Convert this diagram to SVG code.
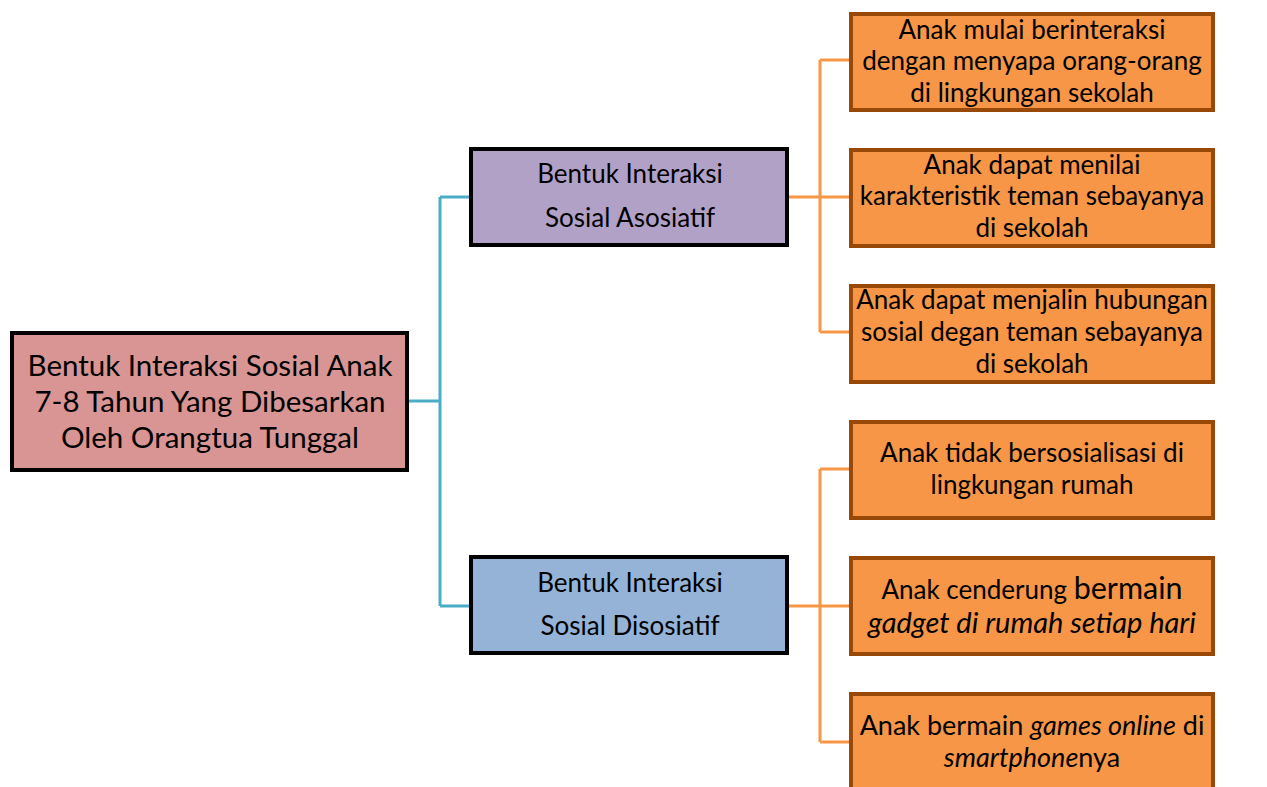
<svg xmlns="http://www.w3.org/2000/svg" width="1267" height="787" viewBox="0 0 1267 787">
<style>
text{font-family:Lato,"Noto Sans","Liberation Sans",sans-serif;fill:#000;text-anchor:middle}
.root{font-size:29.5px}
.mid{font-size:26px}
.leaf{font-size:26px}
.i{font-style:italic}
.teal{stroke:#4BACC6;stroke-width:3;fill:none}
.org{stroke:#F79646;stroke-width:3;fill:none}
.lb{fill:#F79646;stroke:#984807;stroke-width:4}
</style>
<rect width="1267" height="787" fill="#fff"/>
<g id="connectors">
<path class="teal" d="M409 401H440M440 197V606M440 197H471M440 606H471"/>
<path class="org" d="M789 197H820M820 60V332M820 60H850M820 197H850M820 332H850"/>
<path class="org" d="M789 606H820M820 469V742M820 469H850M820 606H850M820 742H850"/>
</g>
<g id="root">
<rect x="12" y="333" width="395" height="137" fill="#D99594" stroke="#000" stroke-width="4"/>
<text class="root" x="210" y="376">Bentuk Interaksi Sosial Anak</text>
<text class="root" x="210" y="412">7-8 Tahun Yang Dibesarkan</text>
<text class="root" x="210" y="448">Oleh Orangtua Tunggal</text>
</g>
<g id="asosiatif">
<rect x="471" y="149" width="316" height="96" fill="#B2A1C7" stroke="#000" stroke-width="4"/>
<text class="mid" x="630" y="183">Bentuk Interaksi</text>
<text class="mid" x="630" y="227">Sosial Asosiatif</text>
</g>
<g id="disosiatif">
<rect x="471" y="557" width="316" height="96" fill="#95B3D7" stroke="#000" stroke-width="4"/>
<text class="mid" x="630" y="592">Bentuk Interaksi</text>
<text class="mid" x="630" y="635">Sosial Disosiatif</text>
</g>
<g id="leaf1">
<rect class="lb" x="851" y="14" width="362" height="96"/>
<text class="leaf" x="1032" y="39">Anak mulai berinteraksi</text>
<text class="leaf" x="1032" y="70">dengan menyapa orang-orang</text>
<text class="leaf" x="1032" y="102">di lingkungan sekolah</text>
</g>
<g id="leaf2">
<rect class="lb" x="851" y="150" width="362" height="96"/>
<text class="leaf" x="1032" y="174">Anak dapat menilai</text>
<text class="leaf" x="1032" y="205">karakteristik teman sebayanya</text>
<text class="leaf" x="1032" y="237">di sekolah</text>
</g>
<g id="leaf3">
<rect class="lb" x="851" y="286" width="362" height="96"/>
<text class="leaf" x="1032" y="309">Anak dapat menjalin hubungan</text>
<text class="leaf" x="1032" y="341">sosial degan teman sebayanya</text>
<text class="leaf" x="1032" y="373">di sekolah</text>
</g>
<g id="leaf4">
<rect class="lb" x="851" y="422" width="362" height="96"/>
<text class="leaf" x="1032" y="462">Anak tidak bersosialisasi di</text>
<text class="leaf" x="1032" y="494">lingkungan rumah</text>
</g>
<g id="leaf5">
<rect class="lb" x="851" y="558" width="362" height="96"/>
<text class="leaf" x="1032" y="599">Anak cenderung <tspan style="font-size:30.5px">bermain</tspan></text>
<text class="leaf i" x="1032" y="633" style="font-size:29px">gadget di rumah setiap hari</text>
</g>
<g id="leaf6">
<rect class="lb" x="851" y="694" width="362" height="96"/>
<text class="leaf" x="1032" y="735" style="font-size:27px">Anak bermain <tspan class="i">games online</tspan> di</text>
<text class="leaf" x="1032" y="767" style="font-size:27px"><tspan class="i">smartphone</tspan>nya</text>
</g>
</svg>
